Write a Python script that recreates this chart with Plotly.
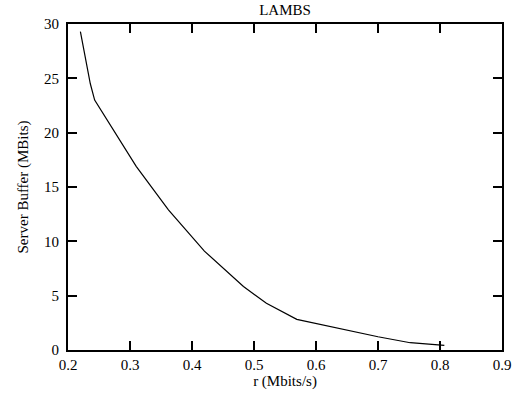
import plotly.graph_objects as go

r_vals = [0.22, 0.236, 0.243, 0.31, 0.362, 0.42, 0.483, 0.52, 0.569, 0.70, 0.752, 0.807]
buffer_vals = [29.3, 24.5, 23.0, 16.9, 12.9, 9.1, 5.85, 4.3, 2.82, 1.22, 0.67, 0.43]

x_ticks = [0.2, 0.3, 0.4, 0.5, 0.6, 0.7, 0.8, 0.9]
y_ticks = [0, 5, 10, 15, 20, 25, 30]

font = dict(family="Liberation Serif", size=15, color="black")

fig = go.Figure()
fig.add_trace(go.Scatter(x=r_vals, y=buffer_vals, mode="lines",
                         line=dict(color="black", width=1.2), showlegend=False))

axis_common = dict(showgrid=False, zeroline=False, showline=True, linecolor="black",
                   linewidth=2, mirror="ticks", ticks="inside", ticklen=9,
                   tickwidth=1.5, tickcolor="black", tickfont=font, automargin=False)

fig.update_layout(
    width=517, height=393,
    margin=dict(l=68, r=15, t=24, b=43),
    paper_bgcolor="white", plot_bgcolor="white",
    font=font,
    title=dict(text="LAMBS", x=0.5, xref="paper", xanchor="center",
               y=1 - 10 / 393, yanchor="middle", font=dict(family=font["family"], size=15)),
    xaxis=dict(range=[0.2, 0.9], tickvals=x_ticks, ticktext=[f"{v:.1f}" for v in x_ticks],
               title=dict(text="r (Mbits/s)", standoff=0, font=font), **axis_common),
    yaxis=dict(range=[0, 30], tickvals=y_ticks, ticktext=[str(v) for v in y_ticks],
               ticklabelstandoff=4,
               title=dict(text="Server Buffer (MBits)", standoff=12, font=font), **axis_common),
)

fig.write_html("out.html", config={"displayModeBar": False},
               post_script="document.body.style.margin='0';")
